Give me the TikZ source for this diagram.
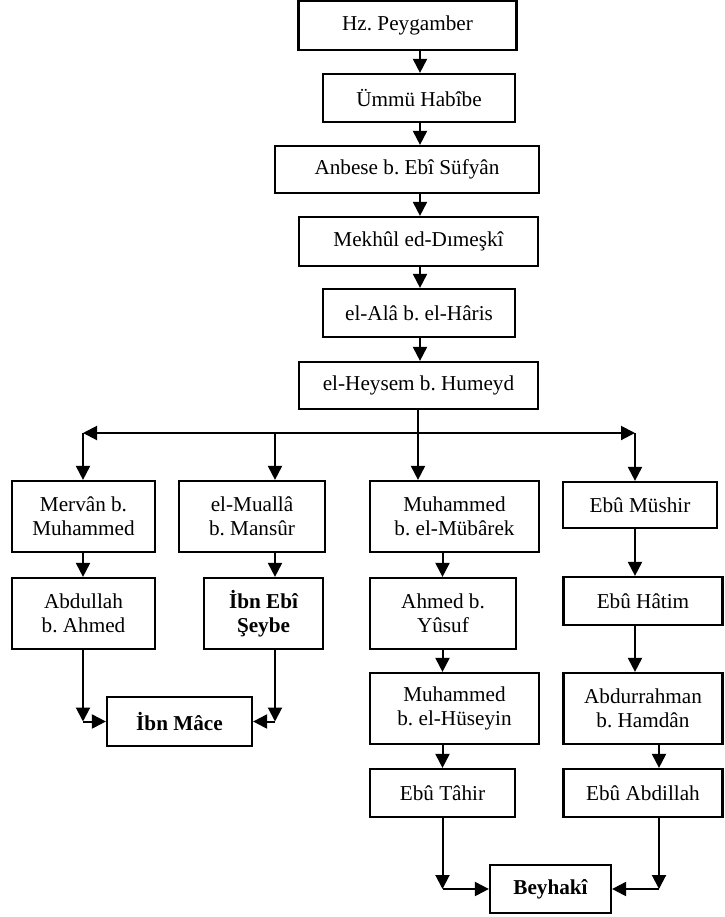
\documentclass[tikz,border=0pt]{standalone}
\usepackage{fontspec}
\setmainfont{Liberation Serif}
\frenchspacing
\usetikzlibrary{arrows.meta}
\tikzset{>={Triangle[width=7pt,length=7pt]}}
\tikzset{
  kutu/.style={draw, line width=1.1pt, inner sep=0pt, align=center,
    font=\fontsize{10.6}{11.8}\selectfont},
  ok/.style={->, line width=1pt}
}

\begin{document}
\begin{tikzpicture}[x=0.5pt, y=-0.5pt]
  \newcommand\U{0.5pt}
  \useasboundingbox (0,0) rectangle (724,917);

  % ravi zinciri
  \node[kutu, minimum width=218*\U, minimum height=49*\U] (peygamber) at (407.5, 25.5) {Hz. Peygamber};
  \node[kutu, minimum width=192*\U, minimum height=48*\U] (ummu)      at (419,   98)   {Ümmü Habîbe};
  \node[kutu, minimum width=264*\U, minimum height=47*\U] (anbese)    at (407,  169.5) {Anbese b. Ebî Süfyân};
  \node[kutu, minimum width=239*\U, minimum height=49*\U] (mekhul)    at (418.5,241.5) {Mekhûl ed-Dımeşkî};
  \node[kutu, minimum width=192*\U, minimum height=48*\U] (ala)       at (419,  313)   {el-Alâ b. el-Hâris};
  \node[kutu, minimum width=239*\U, minimum height=47*\U] (heysem)    at (418.5,385.5) {el-Heysem b. Humeyd};

  \node[kutu, minimum width=143*\U, minimum height=71*\U] (mervan)    at (83.5, 516.5) {Mervân b.\\Muhammed};
  \node[kutu, minimum width=146*\U, minimum height=71*\U] (mualla)    at (252,  516.5) {el-Muallâ\\b. Mansûr};
  \node[kutu, minimum width=169*\U, minimum height=71*\U] (mubarek)   at (454.5,516.5) {Muhammed\\b. el-Mübârek};
  \node[kutu, minimum width=154*\U, minimum height=46*\U] (musir)     at (640,  505)   {Ebû Müshir};

  \node[kutu, minimum width=143*\U, minimum height=71*\U] (abdullah)  at (83.5, 613.5) {Abdullah\\b. Ahmed};
  \node[kutu, minimum width=119*\U, minimum height=71*\U, font=\fontsize{10.6}{11.8}\selectfont\bfseries] (seybe) at (263.5,613.5) {İbn Ebî\\Şeybe};
  \node[kutu, minimum width=146*\U, minimum height=71*\U] (ahmed)     at (443,  613.5) {Ahmed b.\\Yûsuf};
  \node[kutu, minimum width=159*\U, minimum height=48*\U] (hatim)     at (643,  601)   {Ebû Hâtim};

  \node[kutu, minimum width=145*\U, minimum height=49*\U, font=\fontsize{10.6}{11.8}\selectfont\bfseries] (ibnmace) at (179.5,721.5) {İbn Mâce};
  \node[kutu, minimum width=169*\U, minimum height=71*\U] (huseyin)   at (454.5,708.5) {Muhammed\\b. el-Hüseyin};
  \node[kutu, minimum width=159*\U, minimum height=71*\U] (hamdan)    at (643,  708.5) {Abdurrahman\\b. Hamdân};

  \node[kutu, minimum width=145*\U, minimum height=48*\U] (tahir)     at (442.5,793)   {Ebû Tâhir};
  \node[kutu, minimum width=159*\U, minimum height=48*\U] (abdillah)  at (643,  793)   {Ebû Abdillah};
  \node[kutu, minimum width=121*\U, minimum height=48*\U, font=\fontsize{10.6}{11.8}\selectfont\bfseries] (beyhaki) at (550.5,889) {Beyhakî};

  \coordinate (orta) at (420, 0);
  \draw[ok] (orta |- peygamber.south) -- (orta |- ummu.north);
  \draw[ok] (orta |- ummu.south) -- (orta |- anbese.north);
  \draw[ok] (orta |- anbese.south) -- (orta |- mekhul.north);
  \draw[ok] (orta |- mekhul.south) -- (orta |- ala.north);
  \draw[ok] (orta |- ala.south) -- (orta |- heysem.north);

  % dallanma
  \coordinate (sol) at (83, 433);
  \coordinate (sag) at (635, 433);
  \coordinate (k2)  at (275, 433);
  \coordinate (k3)  at (418, 433);
  \draw[ok, <->] (sol) -- (sag);
  \draw[ok] (k3 |- heysem.south) -- (k3 |- mubarek.north);
  \draw[ok] (sol) -- (sol |- mervan.north);
  \draw[ok] (k2) -- (k2 |- mualla.north);
  \draw[ok] (sag) -- (sag |- musir.north);

  \coordinate (s1) at (83, 0);
  \coordinate (s2) at (275, 0);
  \coordinate (s3) at (442.5, 0);
  \coordinate (s4) at (635, 0);
  \coordinate (s5) at (659, 0);
  \draw[ok] (s1 |- mervan.south) -- (s1 |- abdullah.north);
  \draw[ok] (s2 |- mualla.south) -- (s2 |- seybe.north);
  \draw[ok] (s3 |- mubarek.south) -- (s3 |- ahmed.north);
  \draw[ok] (s4 |- musir.south) -- (s4 |- hatim.north);
  \draw[ok] (s3 |- ahmed.south) -- (s3 |- huseyin.north);
  \draw[ok] (s4 |- hatim.south) -- (s4 |- hamdan.north);
  \draw[ok] (s3 |- huseyin.south) -- (s3 |- tahir.north);
  \draw[ok] (s5 |- hamdan.south) -- (s5 |- abdillah.north);

  % birlesmeler
  \draw[ok] (s1 |- abdullah.south) -- (s1 |- ibnmace.west);
  \draw[ok] (s1 |- ibnmace.west) -- (ibnmace.west);
  \draw[ok] (s2 |- seybe.south) -- (s2 |- ibnmace.east);
  \draw[ok] (s2 |- ibnmace.east) -- (ibnmace.east);
  \draw[ok] (s3 |- tahir.south) -- (s3 |- beyhaki.west);
  \draw[ok] (s3 |- beyhaki.west) -- (beyhaki.west);
  \draw[ok] (s5 |- abdillah.south) -- (s5 |- beyhaki.east);
  \draw[ok] (s5 |- beyhaki.east) -- (beyhaki.east);
\end{tikzpicture}
\end{document}
